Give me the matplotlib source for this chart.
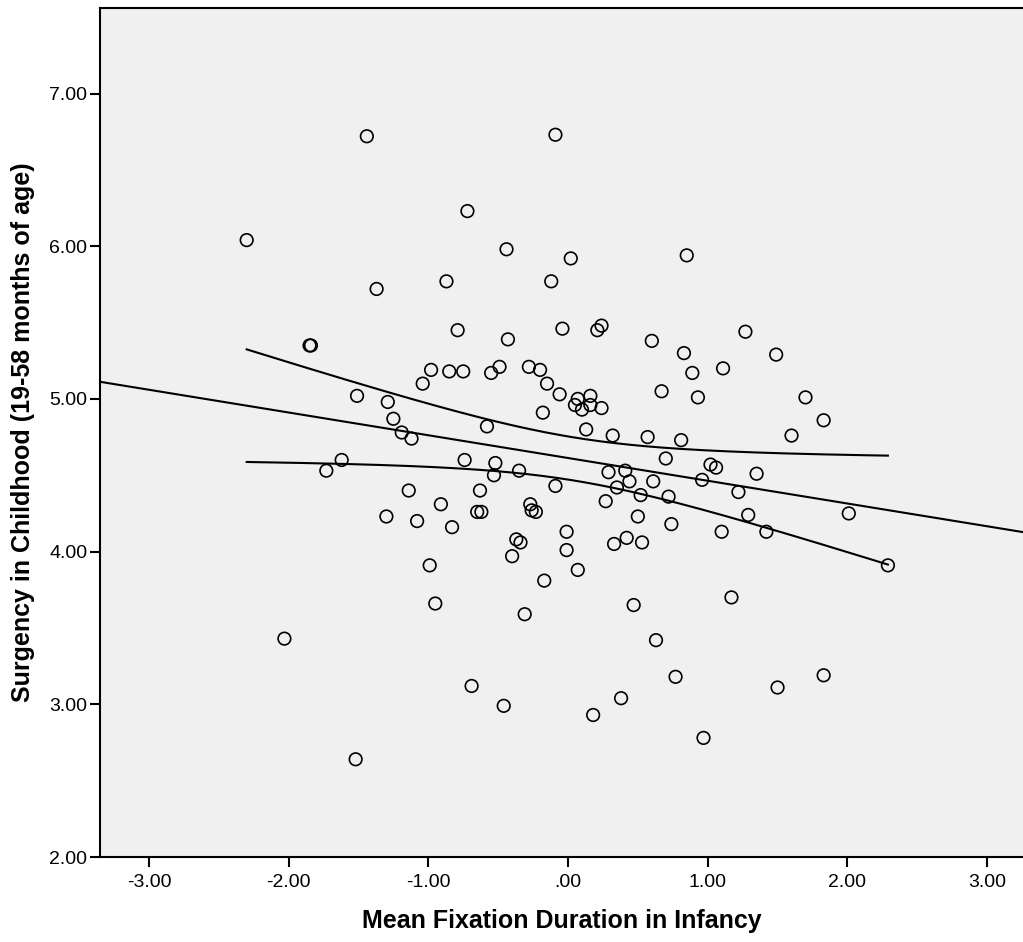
import numpy as np
import matplotlib
matplotlib.use("Agg")
import matplotlib.pyplot as plt

plt.rcParams['font.family'] = ['Liberation Sans', 'DejaVu Sans']

# ---- data ----
fixation = [
    -2.30, -1.44, -0.09, -0.72, -0.44, 0.02, 0.85, -1.37, -0.87, -0.12,
    -1.85, -1.84, -0.79, -0.43, -0.04, 0.21, 0.24, 0.60, 1.27, 0.83,
    1.49, -0.98, -0.85, -0.75, -1.04, -1.51, -1.29, -1.25, -1.19, -1.12,
    -1.62, -1.73, -0.74, -1.14, -0.55, -0.49, -0.28, -0.20, -0.15, -0.06,
    -0.18, 0.07, 0.05, 0.10, 0.16, 0.16, 0.24, 0.67, 0.93, 0.89,
    1.11, -0.58, 0.13, 0.32, 0.57, 0.81, 1.70, 1.83, 1.60, -0.53,
    -0.52, -0.35, -0.63, -0.09, -0.65, -0.62, -0.27, -0.26, -0.23, -0.01,
    -0.01, -0.37, -0.34, -0.40, 0.07, -0.17, -0.31, 0.29, 0.41, 0.44,
    0.61, 0.35, 0.52, 0.27, 0.72, 0.50, 0.74, 0.42, 0.33, 0.53,
    0.47, 0.63, 0.77, 0.38, 0.18, 0.97, -0.46, -0.69, -1.52, -2.03,
    0.70, 1.02, 1.06, 1.35, 0.96, 1.22, 2.01, 1.29, 1.10, 1.42,
    2.29, 1.17, 1.83, 1.50, -1.30, -1.08, -0.83, -0.91, -0.99, -0.95,
]
surgency = [
    6.04, 6.72, 6.73, 6.23, 5.98, 5.92, 5.94, 5.72, 5.77, 5.77,
    5.35, 5.35, 5.45, 5.39, 5.46, 5.45, 5.48, 5.38, 5.44, 5.30,
    5.29, 5.19, 5.18, 5.18, 5.10, 5.02, 4.98, 4.87, 4.78, 4.74,
    4.60, 4.53, 4.60, 4.40, 5.17, 5.21, 5.21, 5.19, 5.10, 5.03,
    4.91, 5.00, 4.96, 4.93, 5.02, 4.96, 4.94, 5.05, 5.01, 5.17,
    5.20, 4.82, 4.80, 4.76, 4.75, 4.73, 5.01, 4.86, 4.76, 4.50,
    4.58, 4.53, 4.40, 4.43, 4.26, 4.26, 4.31, 4.27, 4.26, 4.13,
    4.01, 4.08, 4.06, 3.97, 3.88, 3.81, 3.59, 4.52, 4.53, 4.46,
    4.46, 4.42, 4.37, 4.33, 4.36, 4.23, 4.18, 4.09, 4.05, 4.06,
    3.65, 3.42, 3.18, 3.04, 2.93, 2.78, 2.99, 3.12, 2.64, 3.43,
    4.61, 4.57, 4.55, 4.51, 4.47, 4.39, 4.25, 4.24, 4.13, 4.13,
    3.91, 3.70, 3.19, 3.11, 4.23, 4.20, 4.16, 4.31, 3.91, 3.66,
]

# linear fit and 95% CI of the mean
FIT_INTERCEPT = 4.613
FIT_SLOPE = -0.149
CI_A = 0.0199      # squared half-width at the mean of x
CI_B = 0.0212      # growth of squared half-width with (x - mean)^2
X_MEAN = 0.04

x_ticks = [-3, -2, -1, 0, 1, 2, 3]
x_tick_labels = ["-3.00", "-2.00", "-1.00", ".00", "1.00", "2.00", "3.00"]
y_ticks = [2, 3, 4, 5, 6, 7]
y_tick_labels = ["2.00", "3.00", "4.00", "5.00", "6.00", "7.00"]
x_label = "Mean Fixation Duration in Infancy"
y_label = "Surgency in Childhood (19-58 months of age)"

XLIM = (-3.35, 3.257)
YLIM = (2.0, 7.56)

# ---- figure ----
fig = plt.figure(figsize=(10.23, 9.42), dpi=100)
ax = fig.add_axes([100 / 1023, 85 / 942, 923 / 1023, 849 / 942])
ax.set_facecolor('#f0f0f0')

# regression line across full x-range
xl = np.linspace(XLIM[0], XLIM[1], 200)
ax.plot(xl, FIT_INTERCEPT + FIT_SLOPE * xl, color='black', lw=1.5, zorder=2)

# CI bands over data range
xs = np.linspace(min(fixation), max(fixation), 300)
center = FIT_INTERCEPT + FIT_SLOPE * xs
half = np.sqrt(CI_A + CI_B * (xs - X_MEAN) ** 2)
ax.plot(xs, center + half, color='black', lw=1.5, zorder=2)
ax.plot(xs, center - half, color='black', lw=1.5, zorder=2)

ax.scatter(fixation, surgency, s=82, facecolors='none', edgecolors='black',
           linewidths=1.2, zorder=3)

ax.set_xlim(*XLIM)
ax.set_ylim(*YLIM)
ax.set_xticks(x_ticks)
ax.set_xticklabels(x_tick_labels)
ax.set_yticks(y_ticks)
ax.set_yticklabels(y_tick_labels)

for s in ['left', 'bottom', 'top']:
    ax.spines[s].set_linewidth(1.5)
    ax.spines[s].set_color('black')
ax.spines['right'].set_visible(False)

ax.tick_params(axis='both', direction='out', length=7, width=1.5,
               labelsize=14, colors='black')
ax.tick_params(axis='x', pad=5)
ax.tick_params(axis='y', pad=2)

ax.set_xlabel(x_label, fontsize=18, fontweight='bold', labelpad=13)
ax.set_ylabel(y_label, fontsize=18, fontweight='bold', labelpad=10)

fig.savefig('out.png', dpi=100, facecolor='white')
